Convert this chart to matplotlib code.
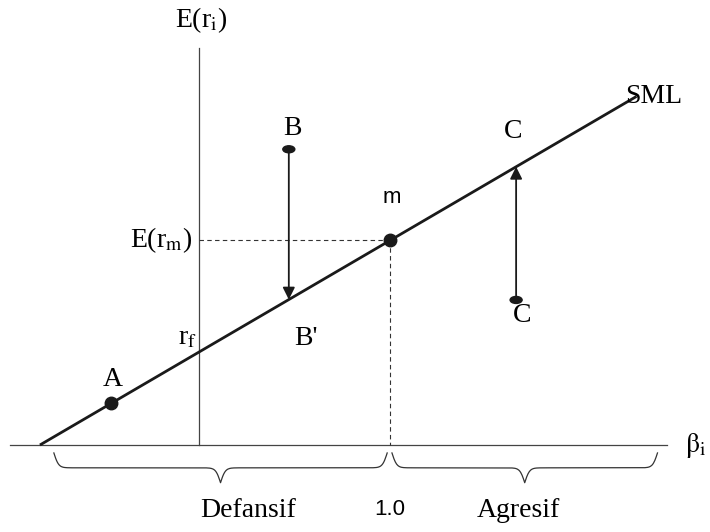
import numpy as np
import matplotlib
matplotlib.use('Agg')
import matplotlib.pyplot as plt
from matplotlib.patches import Ellipse

plt.rcParams['font.family'] = ['Liberation Serif', 'DejaVu Serif']
plt.rcParams['mathtext.fontset'] = 'stix'

# SML values (beta on x, expected return on y)
rf = 1.0
beta_m = 1.0
E_rm = 2.2
sml_beta = [-0.833, 2.29]

# securities
beta_A = -0.46
beta_B, E_B = 0.47, 3.18
beta_C, E_C = 1.66, 1.56


def sml(b):
    return rf + np.asarray(b) * (E_rm - rf) / beta_m


def brace(ax, x0, x1, ytop, depth, k=80):
    # curly brace opening upward, tip pointing down
    x = np.linspace(x0, x1, 401)
    half = x[:201]
    v = 1 / (1 + np.exp(-k * (half - half[0]))) + 1 / (1 + np.exp(-k * (half - half[-1])))
    v = np.concatenate((v, v[-2::-1]))
    y = ytop - (v - 0.5) * depth
    ax.plot(x, y, color='#333333', lw=0.9)


fig = plt.figure(figsize=(7.1, 5.32), dpi=100)
ax = fig.add_axes([0, 0, 1, 1])
ax.set_xlim(-1.042, 2.675)
ax.set_ylim(-0.935, 4.785)
ax.axis('off')

# axes
ax.plot([-0.99, 2.45], [0, 0], color='#444444', lw=0.9)
ax.plot([0, 0], [0, 4.27], color='#444444', lw=0.9)

# SML
xs = np.array(sml_beta)
ax.plot(xs, sml(xs), color='#1a1a1a', lw=2.0, solid_capstyle='butt')

# market portfolio dashed guides
ax.plot([0, beta_m], [E_rm, E_rm], color='#333333', lw=0.8, ls=(0, (4, 3)))
ax.plot([beta_m, beta_m], [E_rm, 0], color='#333333', lw=0.8, ls=(0, (4, 3)))

# points on line
ax.plot([beta_A, beta_m], [sml(beta_A), E_rm], 'o', color='#1a1a1a', ms=9)

# B and C: flattened markers + arrows to SML
for b, e in [(beta_B, E_B), (beta_C, E_C)]:
    ax.add_patch(Ellipse((b, e), 12 / 191, 7 / 93, color='#1a1a1a'))
    ax.annotate('', xy=(b, sml(b)), xytext=(b, e),
                arrowprops=dict(arrowstyle='-|>', color='#1a1a1a', lw=1.3,
                                mutation_scale=18, shrinkA=0, shrinkB=0))

# braces
brace(ax, -0.76, 0.985, -0.085, 0.32)
brace(ax, 1.01, 2.40, -0.085, 0.32)

fs = 20
ax.text(0.01, 4.57, 'E(r$_\\mathrm{i}$)', fontsize=fs, ha='center', va='center')
ax.text(2.23, 3.75, 'SML', fontsize=fs, ha='left', va='center')
ax.text(-0.035, E_rm, 'E(r$_\\mathrm{m}$)', fontsize=fs, ha='right', va='center')
ax.text(-0.06, 1.15, 'r$_\\mathrm{f}$', fontsize=fs, ha='center', va='center')
ax.text(beta_A + 0.01, 0.71, 'A', fontsize=fs, ha='center', va='center')
ax.text(beta_B + 0.02, 3.4, 'B', fontsize=fs, ha='center', va='center')
ax.text(beta_B + 0.09, 1.15, "B'", fontsize=fs, ha='center', va='center')
ax.text(beta_C - 0.015, 3.37, 'C', fontsize=fs, ha='center', va='center')
ax.text(beta_C + 0.03, 1.39, 'C', fontsize=fs, ha='center', va='center')
ax.text(beta_m + 0.01, 2.66, 'm', fontsize=16, ha='center', va='center',
        family='Liberation Sans')
ax.text(2.6, 0, '$\\mathrm{\\beta_i}$', fontsize=fs, ha='center', va='center')
ax.text(0.255, -0.7, 'Defansif', fontsize=fs, ha='center', va='center')
ax.text(beta_m, -0.69, '1.0', fontsize=16, ha='center', va='center',
        family='Liberation Sans')
ax.text(1.67, -0.7, 'Agresif', fontsize=fs, ha='center', va='center')

fig.savefig('out.png', dpi=100)
